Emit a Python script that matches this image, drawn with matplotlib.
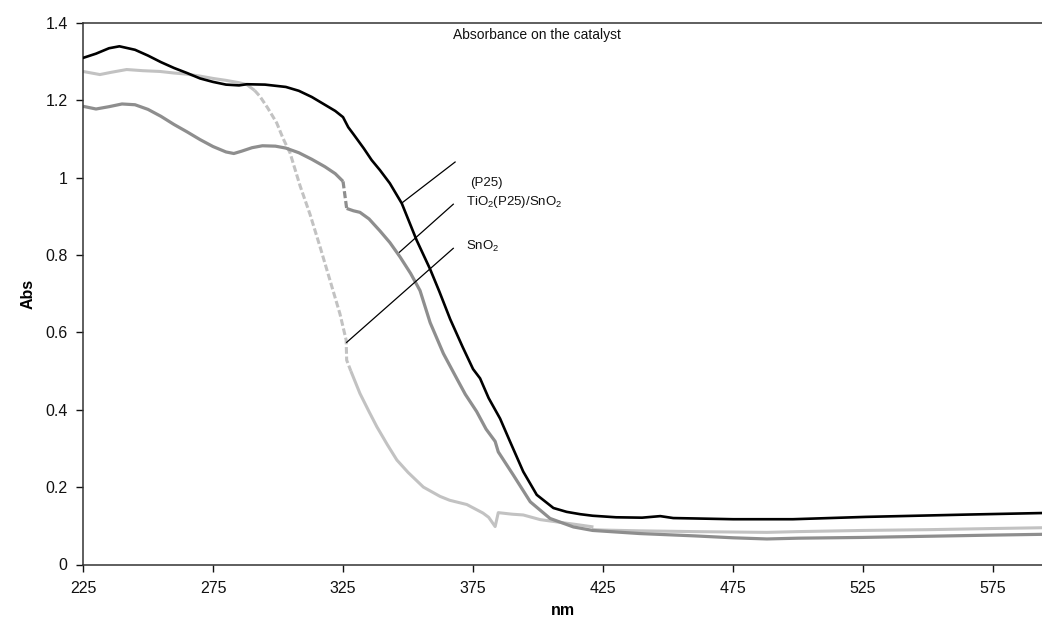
import numpy as np
import matplotlib
matplotlib.use("Agg")
import matplotlib.pyplot as plt
from matplotlib.ticker import FuncFormatter

plt.rcParams['font.family'] = ['Liberation Sans', 'DejaVu Sans']
plt.rcParams['mathtext.fontset'] = 'custom'
plt.rcParams['mathtext.rm'] = 'Liberation Sans'
plt.rcParams['mathtext.default'] = 'regular'

# ---- data ----
p25_x = [225, 230, 235, 239, 245, 250, 255, 260, 265, 270, 275, 280, 285, 288, 295, 303, 308,
         313, 318, 322, 325, 327, 329, 333, 336, 339.2, 343, 347.6, 353.3, 358.5, 362, 366.2,
         371, 375, 377.7, 381, 385.4, 389.2, 394.3, 399.5, 405.9, 411, 416.2, 421, 430, 440,
         447, 452, 460, 475, 498, 526, 565, 594]
p25_y = [1.309, 1.320, 1.334, 1.339, 1.330, 1.315, 1.298, 1.283, 1.270, 1.256, 1.247, 1.240,
         1.238, 1.241, 1.240, 1.234, 1.224, 1.208, 1.188, 1.172, 1.156, 1.130, 1.112, 1.075,
         1.045, 1.019, 0.985, 0.933, 0.838, 0.763, 0.706, 0.634, 0.562, 0.505, 0.481, 0.430,
         0.377, 0.318, 0.240, 0.180, 0.146, 0.136, 0.130, 0.126, 0.122, 0.121, 0.125, 0.120,
         0.119, 0.117, 0.117, 0.123, 0.129, 0.133]

mix_x = [225, 230, 235, 240, 245, 250, 255, 260, 265, 270, 275, 280, 283, 286, 290, 294, 299,
         303, 308, 313, 318, 322, 325, 326.4, 329, 331.5, 335, 339.2, 343, 346.9, 351, 354.6,
         358.5, 363.6, 368.7, 372, 376.4, 380, 383.5, 384.7, 390.5, 397, 404.6, 413.6, 421,
         439, 460, 475, 488, 500, 525, 550, 575, 594]
mix_y = [1.184, 1.177, 1.183, 1.190, 1.188, 1.176, 1.158, 1.137, 1.118, 1.098, 1.080, 1.066,
         1.062, 1.068, 1.077, 1.082, 1.081, 1.076, 1.064, 1.047, 1.028, 1.010, 0.990, 0.920,
         0.914, 0.910, 0.893, 0.862, 0.832, 0.795, 0.752, 0.708, 0.625, 0.545, 0.481, 0.440,
         0.395, 0.350, 0.318, 0.291, 0.231, 0.162, 0.119, 0.097, 0.088, 0.080, 0.074, 0.069,
         0.066, 0.068, 0.070, 0.073, 0.076, 0.078]

sno2_x = [225, 231.5, 236, 241.8, 248, 254.6, 260, 265, 270, 275, 280, 285, 288, 291, 293, 296,
          299.5, 302, 304.6, 308.5, 312.3, 316.2, 320, 323.8, 326.2, 326.4, 328, 331.5, 335,
          338, 342, 345.7, 350, 355.9, 362.3, 366, 372.6, 378.8, 381, 383.5, 384.7, 390, 394.3,
          400.8, 407.3, 414, 421.3]
sno2_y = [1.274, 1.266, 1.272, 1.279, 1.276, 1.274, 1.270, 1.267, 1.262, 1.256, 1.251, 1.245,
          1.240, 1.225, 1.210, 1.180, 1.141, 1.100, 1.064, 0.978, 0.905, 0.820, 0.734, 0.648,
          0.580, 0.528, 0.500, 0.442, 0.395, 0.356, 0.310, 0.270, 0.238, 0.200, 0.176, 0.166,
          0.155, 0.133, 0.122, 0.098, 0.134, 0.130, 0.128, 0.116, 0.110, 0.104, 0.097]
sno2_tail_x = [421.3, 425, 439, 460, 488, 500, 525, 550, 575, 594]
sno2_tail_y = [0.090, 0.089, 0.087, 0.085, 0.083, 0.085, 0.088, 0.090, 0.093, 0.095]

x_ticks = [225, 275, 325, 375, 425, 475, 525, 575]
y_ticks = [0, 0.2, 0.4, 0.6, 0.8, 1.0, 1.2, 1.4]

labels = ["(P25)", r"TiO$_2$(P25)/SnO$_2$", r"SnO$_2$"]
label_pos = [(373.8, 0.986), (372.3, 0.937), (372.3, 0.821)]
leader_start = [(347.6, 0.934), (346.7, 0.807), (326.4, 0.574)]
leader_end = [(368.1, 1.040), (367.4, 0.931), (367.4, 0.817)]

C_BLACK = '#000000'
C_MID = '#8e8e8e'
C_LIGHT = '#c2c2c2'

fig = plt.figure(figsize=(10.42, 6.24), dpi=100)
ax = fig.add_axes([83 / 1042, 1 - 564.5 / 624, (1042 - 83) / 1042, (564.5 - 22.7) / 624])


def plot_split(x, y, lo, hi, color, lw):
    x = np.asarray(x, float)
    y = np.asarray(y, float)
    i0 = np.searchsorted(x, lo)
    i1 = np.searchsorted(x, hi, side='right') - 1
    ax.plot(x[:i0 + 1], y[:i0 + 1], color=color, lw=lw, solid_capstyle='butt', zorder=2)
    ax.plot(x[i0:i1 + 1], y[i0:i1 + 1], color=color, lw=lw, ls=(0, (2.2, 0.9)), zorder=2)
    ax.plot(x[i1:], y[i1:], color=color, lw=lw, solid_capstyle='butt', zorder=2)


plot_split(sno2_x, sno2_y, 291, 328, C_LIGHT, 2.2)
ax.plot(sno2_tail_x, sno2_tail_y, color=C_LIGHT, lw=2.2, zorder=2)
plot_split(mix_x, mix_y, 325, 326.4, C_MID, 2.3)
ax.plot(p25_x, p25_y, color=C_BLACK, lw=1.9, zorder=3)

for (x0, y0), (x1, y1), lab, (tx, ty) in zip(leader_start, leader_end, labels, label_pos):
    ax.plot([x0, x1], [y0, y1], color='black', lw=0.9, zorder=4)
    ax.text(tx, ty, lab, fontsize=9.5, ha='left', va='center', color='#111111')

ax.text(367.3, 1.368, "Absorbance on the catalyst", fontsize=10, ha='left', va='center',
        color='#111111')

ax.set_xlim(225, 593.8)
ax.set_ylim(0, 1.4)
ax.set_xticks(x_ticks)
ax.set_yticks(y_ticks)
ax.yaxis.set_major_formatter(FuncFormatter(lambda v, p: f"{v:g}"))
ax.tick_params(axis='both', direction='out', length=5, width=1, labelsize=11.5, colors='#111111')
ax.tick_params(axis='x', pad=7)
ax.tick_params(axis='y', pad=6)

for s in ['left', 'bottom', 'top']:
    ax.spines[s].set_linewidth(1.1)
    ax.spines[s].set_color('#333333')
ax.spines['right'].set_visible(False)

ax.set_xlabel("nm", fontsize=11.5, fontweight='bold', labelpad=5)
ax.set_ylabel("Abs", fontsize=11.5, fontweight='bold', labelpad=7)

fig.savefig("out.png", dpi=100)
